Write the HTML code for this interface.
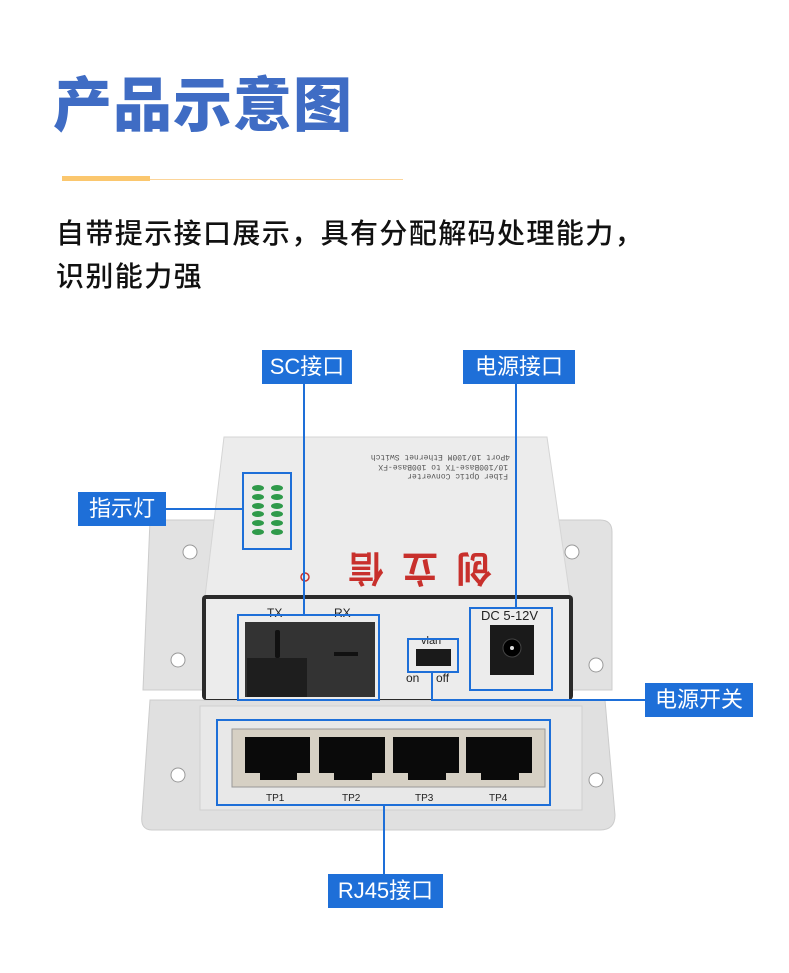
<!DOCTYPE html>
<html><head><meta charset="utf-8"><style>
body{margin:0;width:789px;height:973px;background:#fff;position:relative;overflow:hidden;font-family:"Liberation Sans","Noto Sans CJK SC",sans-serif}
.a{position:absolute}
.t{left:53px;top:66px;font-size:59px;font-weight:900;color:#3f6cc4;letter-spacing:1px;line-height:80px}
.p{left:56px;font-size:28px;color:#111;letter-spacing:1.4px;line-height:40px;font-weight:500}
.lb{position:absolute;background:#1e6fd8;color:#fff;font-size:22px;line-height:34px;text-align:center}
</style></head><body>
<div class="a t">产品示意图</div>
<div class="a" style="left:62px;top:176px;width:88px;height:5px;background:#fbc76e"></div>
<div class="a" style="left:150px;top:179px;width:253px;height:1px;background:#fcd59a"></div>
<div class="a p" style="top:214px">自带提示接口展示，具有分配解码处理能力，</div>
<div class="a p" style="top:257px">识别能力强</div>

<svg class="a" style="left:0;top:0" width="789" height="973">
<path d="M150 520 L600 520 Q612 520 612 532 L612 690 L143 690 Z" fill="#e2e2e2" stroke="#cccccc"/>
<path d="M150 700 L605 700 L615 815 Q615 830 600 830 L152 830 Q140 830 142 815 Z" fill="#e0e0e0" stroke="#cccccc"/>
<path d="M224 437 L547 437 L570 597 L205 597 Z" fill="#ececec" stroke="#d5d5d5"/>
<text x="0" y="0" font-size="8" fill="#555" transform="translate(510 455) rotate(180)" font-family="Liberation Mono">4Port 10/100M Ethernet Switch</text>
<text x="0" y="0" font-size="8" fill="#555" transform="translate(508 465) rotate(180)" font-family="Liberation Mono">10/100Base-TX to 100Base-FX</text>
<text x="0" y="0" font-size="8" fill="#555" transform="translate(508 474) rotate(180)" font-family="Liberation Mono">Fiber Optic Converter</text>
<g fill="#2f9a4a">
<ellipse cx="258" cy="488" rx="6" ry="3"/><ellipse cx="277" cy="488" rx="6" ry="3"/>
<ellipse cx="258" cy="497" rx="6" ry="3"/><ellipse cx="277" cy="497" rx="6" ry="3"/>
<ellipse cx="258" cy="506" rx="6" ry="3"/><ellipse cx="277" cy="506" rx="6" ry="3"/>
<ellipse cx="258" cy="514" rx="6" ry="3"/><ellipse cx="277" cy="514" rx="6" ry="3"/>
<ellipse cx="258" cy="523" rx="6" ry="3"/><ellipse cx="277" cy="523" rx="6" ry="3"/>
<ellipse cx="258" cy="532" rx="6" ry="3"/><ellipse cx="277" cy="532" rx="6" ry="3"/>
</g>
<text x="0" y="0" font-size="36" font-weight="bold" letter-spacing="18" fill="#c8302c" transform="translate(492 556) rotate(180)" font-family="Noto Sans CJK SC">创立信</text>
<circle cx="305" cy="577" r="4" fill="none" stroke="#c8302c" stroke-width="1.5"/>
<g fill="#fff" stroke="#999"><circle cx="190" cy="552" r="7"/><circle cx="572" cy="552" r="7"/><circle cx="178" cy="660" r="7"/><circle cx="596" cy="665" r="7"/><circle cx="178" cy="775" r="7"/><circle cx="596" cy="780" r="7"/></g>
<rect x="202" y="595" width="371" height="105" rx="4" fill="#2a2a2a"/>
<rect x="206" y="599" width="363" height="100" fill="#ececec"/>
<text x="267" y="617" font-size="12" fill="#222">TX</text><text x="334" y="617" font-size="12" fill="#222">RX</text>
<rect x="245" y="622" width="130" height="75" fill="#333"/>
<rect x="247" y="658" width="60" height="39" fill="#1e1e1e"/>
<rect x="275" y="630" width="5" height="28" rx="2" fill="#111"/>
<rect x="334" y="652" width="24" height="4" fill="#111"/>
<text x="421" y="644" font-size="11" fill="#222">vlan</text>
<rect x="416" y="649" width="35" height="17" fill="#1a1a1a"/>
<text x="406" y="682" font-size="12" fill="#222">on</text><text x="436" y="682" font-size="12" fill="#222">off</text>
<text x="481" y="620" font-size="13" fill="#222">DC 5-12V</text>
<rect x="490" y="625" width="44" height="50" fill="#1a1a1a"/>
<circle cx="512" cy="648" r="9" fill="#000" stroke="#444"/><circle cx="512" cy="648" r="2" fill="#ddd"/>
<rect x="200" y="706" width="382" height="104" fill="#e8e8e8" stroke="#d0d0d0"/>
<rect x="232" y="729" width="313" height="58" fill="#d6d0c4" stroke="#999"/>
<g fill="#0a0a0a">
<path d="M245 737 H310 V773 H297 V780 H260 V773 H245 Z"/>
<path d="M319 737 H385 V773 H372 V780 H334 V773 H319 Z"/>
<path d="M393 737 H459 V773 H446 V780 H408 V773 H393 Z"/>
<path d="M466 737 H532 V773 H519 V780 H481 V773 H466 Z"/>
</g>
<g font-size="10" fill="#222"><text x="266" y="801">TP1</text><text x="342" y="801">TP2</text><text x="415" y="801">TP3</text><text x="489" y="801">TP4</text></g>
<g fill="none" stroke="#1e6fd8" stroke-width="2">
<rect x="243" y="473" width="48" height="76"/>
<rect x="238" y="615" width="141" height="85"/>
<rect x="408" y="639" width="50" height="33"/>
<rect x="470" y="608" width="82" height="82"/>
<rect x="217" y="720" width="333" height="85"/>
<path d="M304 384 V615"/><path d="M516 384 V608"/><path d="M166 509 H243"/>
<path d="M432 672 V700 H645"/><path d="M384 805 V874"/>
</g>
</svg>
<div class="lb" style="left:262px;top:350px;width:90px">SC接口</div>
<div class="lb" style="left:463px;top:350px;width:112px">电源接口</div>
<div class="lb" style="left:78px;top:492px;width:88px">指示灯</div>
<div class="lb" style="left:645px;top:683px;width:108px">电源开关</div>
<div class="lb" style="left:328px;top:874px;width:115px">RJ45接口</div>
</body></html>
